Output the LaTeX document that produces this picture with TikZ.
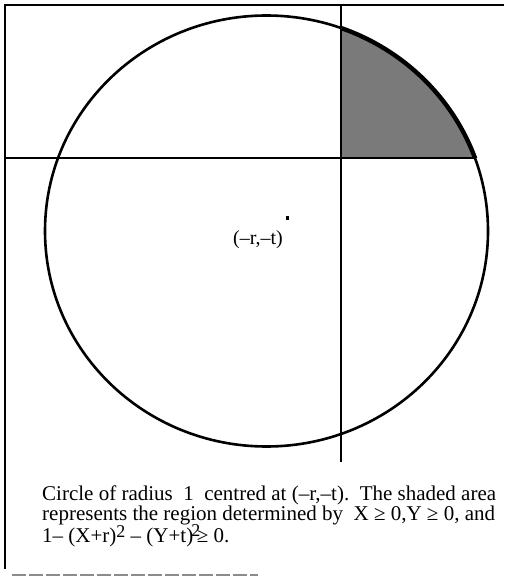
\documentclass[tikz,border=0pt]{standalone}
\usepackage{fontspec}
\setmainfont{Liberation Serif}
\newcommand{\supii}[1]{\raisebox{#1}{\fontsize{18}{18}\selectfont 2}}
\begin{document}
\begin{tikzpicture}[x=1pt,y=-1pt,
  frameline/.style={line width=2pt,black},
  axisline/.style={line width=1.8pt,black},
  circ/.style={line width=2.6pt,black},
  thickarc/.style={line width=4.4pt,black},
  shade/.style={fill=black!52},
  txt/.style={inner sep=0pt,anchor=base west,font=\fontsize{21}{21}\selectfont}]
\useasboundingbox (0,0) rectangle (504,577);
% coordinates
\coordinate (C) at (266.5,231);
\coordinate (tl) at (5,5);
\coordinate (tr) at (504,5);
\coordinate (bl) at (5,569);
\coordinate (hl) at (5,158);
\coordinate (hr) at (475,158);
\coordinate (vt) at (341,5);
\coordinate (vb) at (341,462);
\coordinate (ba) at (12,575);
\coordinate (bb) at (258,575);
% shaded region
\begin{scope}
  \clip (341,5) rectangle (504,158);
  \fill[shade] (C) ellipse [x radius=221.5pt, y radius=215.5pt];
  \draw[thickarc] (C) ellipse [x radius=221.5pt, y radius=215.5pt];
\end{scope}
% circle
\draw[circ] (C) ellipse [x radius=221.5pt, y radius=215.5pt];
% frame
\draw[frameline] (tr) -- (tl) -- (bl);
\draw[line width=1.6pt,black!45,dash pattern=on 14pt off 3pt] (ba) -- (bb);
% axes
\draw[axisline] (hl) -- (hr);
\draw[axisline] (vt) -- (vb);
% centre mark
\node[fill=black,inner sep=0pt,minimum width=3pt,minimum height=4pt] (dot) at (287,217.5) {};
\node[inner sep=0pt,font=\fontsize{20}{20}\selectfont] (lab) at (258,240) {(–r,–t)};
% caption
\node[txt] (l1) at (42,500) {Circle of radius\ \ 1\ \ centred at (–r,–t).\ \ The shaded area};
\node[txt] (l2) at (42,520.5) {represents the region determined by\ \ X ≥ 0,Y ≥ 0, and};
\node[txt] (l3) at (42,542) {1– (X+r)\supii{5pt} – (Y+t)\kern-2pt\supii{5.5pt}\kern-3.5pt≥ 0.};
\end{tikzpicture}
\end{document}
